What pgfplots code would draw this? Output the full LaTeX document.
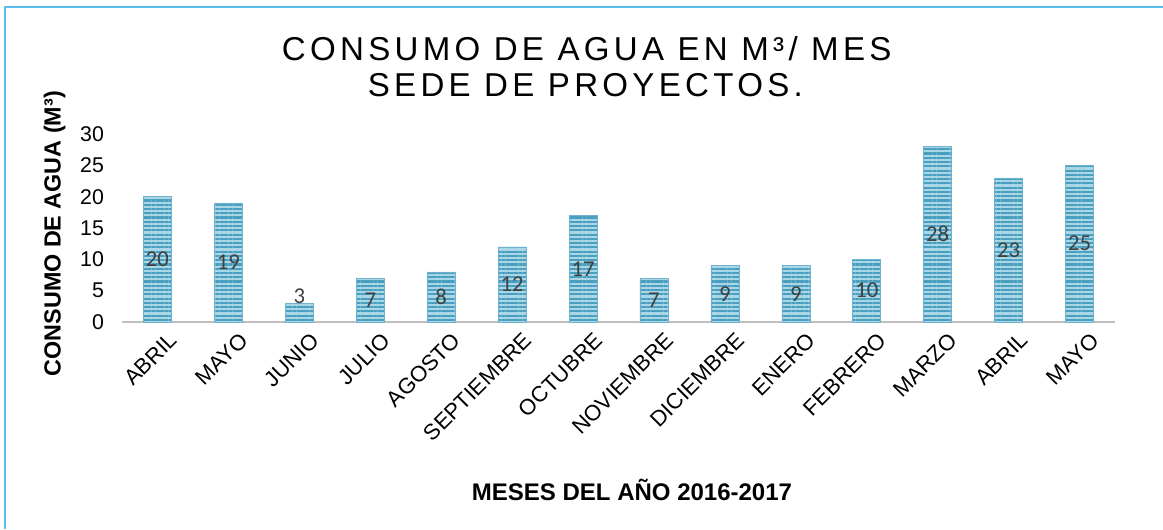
\documentclass[border=0pt]{standalone}
\usepackage{fontspec}
\setmainfont{Liberation Sans}
\newfontfamily\titlefont[LetterSpace=13]{Liberation Sans}
\newfontfamily\labfont{Carlito}
\usepackage{pgfplots}
\pgfplotsset{compat=1.18}
\usetikzlibrary{patterns.meta}
\definecolor{barfill}{HTML}{A9D7E6}
\definecolor{barline}{HTML}{4A9FC0}
\definecolor{frame}{HTML}{5BC0EB}
\definecolor{baseln}{HTML}{BFBFBF}
\definecolor{lab}{HTML}{404040}
\begin{document}
\begin{tikzpicture}[x=1pt,y=1pt]
\useasboundingbox (0,0) rectangle (872.25,396.75);
% frame (left and top edges only)
\draw[frame, line width=1.5pt] (4,0) -- (4,391.5) -- (872.25,391.5);
% titles
\node[font=\titlefont\fontsize{24.8}{28}\selectfont] at (440,360.5) {CONSUMO DE AGUA EN M³/ MES};
\node[font=\titlefont\fontsize{24.8}{28}\selectfont] at (439,333) {SEDE DE PROYECTOS.};
\node[font=\bfseries\fontsize{18}{20}\selectfont] at (474,29) {MESES DEL AÑO 2016-2017};
\node[rotate=90, font=\bfseries\fontsize{17.5}{20}\selectfont] at (41,221.5) {CONSUMO DE AGUA (M³)};
\begin{axis}[
    at={(91.5pt,155.25pt)},
    anchor=south west,
    scale only axis,
    width=744.75pt,
    height=141pt,
    xmin=-0.5, xmax=13.5,
    ymin=0, ymax=30,
    ytick={0,5,...,30},
    xtick={0,...,13},
    xticklabels={ABRIL,MAYO,JUNIO,JULIO,AGOSTO,SEPTIEMBRE,OCTUBRE,NOVIEMBRE,DICIEMBRE,ENERO,FEBRERO,MARZO,ABRIL,MAYO},
    x tick label style={rotate=45, anchor=east, font=\fontsize{16.5}{18}\selectfont, xshift=4pt, yshift=-16pt},
    y tick label style={font=\fontsize{16}{18}\selectfont, xshift=-10pt},
    /pgf/number format/assume math mode=true,
    major tick length=0pt,
    axis line style={draw=none},
    clip=false,
]
\draw[baseln, line width=2.2pt] (rel axis cs:0,0) -- (rel axis cs:1,0);
\addplot[ybar, bar width=21pt, draw=barline!80, line width=0.4pt, fill=barfill,
    postaction={pattern={Lines[angle=0, distance=3.2pt, line width=1.6pt]}, pattern color=barline},
    nodes near coords, point meta=y,
    visualization depends on={ifthenelse(y<4, 1.15, -y/2) \as \shifty},
    every node near coord/.append style={font=\labfont\fontsize{17}{19}\selectfont, text=lab, anchor=center,
        shift={(axis direction cs:0,\shifty)}},
] coordinates {
    (0,20) (1,19) (2,3) (3,7) (4,8) (5,12) (6,17) (7,7) (8,9) (9,9) (10,10) (11,28) (12,23) (13,25)
};
\end{axis}
\end{tikzpicture}
\end{document}
